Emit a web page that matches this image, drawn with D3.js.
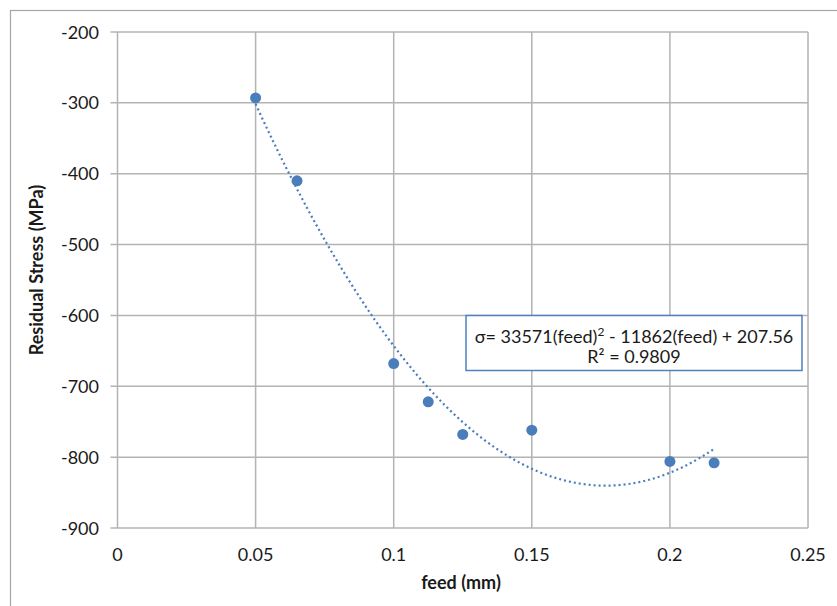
<!DOCTYPE html>
<html><head><meta charset="utf-8">
<script src="https://cdn.jsdelivr.net/npm/d3@7/dist/d3.min.js"></script>
<style>body{margin:0;background:#fff;} svg{display:block;} text{font-family:Lato,"Open Sans",sans-serif;}</style>
</head><body>
<svg id="c" width="837" height="606"></svg>
<script>
const feed = [0.05, 0.065, 0.1, 0.1125, 0.125, 0.15, 0.2, 0.216];
const stress = [-293, -410, -668, -722, -768, -762, -806, -808];
const xTicks = [0, 0.05, 0.1, 0.15, 0.2, 0.25];
const yTicks = [-200, -300, -400, -500, -600, -700, -800, -900];
const trendCoef = [33571, -11862, 207.56]; // a f^2 + b f + c
const rSquared = 0.9809;

const svg = d3.select("#c");
const L = 117.5, R = 808, T = 32, B = 528;
const x = d3.scaleLinear().domain([0, 0.25]).range([L, R]);
const y = d3.scaleLinear().domain([-900, -200]).range([B, T]);
const blue = "#4A7EBB", grid = "#B3B3B3", ink = "#1a1a1a";

// outer chart border
svg.append("rect").attr("x", 10.5).attr("y", 10.5).attr("width", 900).attr("height", 700)
  .attr("fill", "none").attr("stroke", "#A6A6A6").attr("stroke-width", 1.2);

// gridlines
svg.append("g").selectAll("line").data(yTicks).join("line")
  .attr("x1", L - 7).attr("x2", R).attr("y1", d => y(d)).attr("y2", d => y(d))
  .attr("stroke", grid).attr("stroke-width", 1.5);
svg.append("g").selectAll("line").data(xTicks).join("line")
  .attr("x1", d => x(d)).attr("x2", d => x(d)).attr("y1", T).attr("y2", B)
  .attr("stroke", grid).attr("stroke-width", 1.5);

// tick labels
svg.append("g").selectAll("text").data(yTicks).join("text")
  .attr("x", 99).attr("y", d => y(d) + 6.5).attr("text-anchor", "end")
  .attr("font-size", 18).attr("fill", ink).text(d => d);
svg.append("g").selectAll("text").data(xTicks).join("text")
  .attr("x", d => x(d)).attr("y", 561).attr("text-anchor", "middle")
  .attr("font-size", 18).attr("fill", ink).text(d => d);

// axis titles
svg.append("text").attr("x", 461).attr("y", 589).attr("text-anchor", "middle")
  .attr("font-size", 18).attr("font-weight", "bold").attr("fill", ink).text("feed (mm)");
svg.append("text").attr("transform", "translate(43,270) rotate(-90)").attr("text-anchor", "middle")
  .attr("font-size", 18).attr("font-weight", "bold").attr("fill", ink).text("Residual Stress (MPa)");

// trendline
const fx = d3.extent(feed);
const tpts = d3.range(0, 101).map(i => {
  const f = fx[0] + (fx[1] - fx[0]) * i / 100;
  return [f, trendCoef[0] * f * f + trendCoef[1] * f + trendCoef[2]];
});
svg.append("path").datum(tpts)
  .attr("d", d3.line().x(d => x(d[0])).y(d => y(d[1])))
  .attr("fill", "none").attr("stroke", blue).attr("stroke-width", 2.2)
  .attr("stroke-dasharray", "2,3");

// points
svg.append("g").selectAll("circle").data(feed.map((f, i) => [f, stress[i]])).join("circle")
  .attr("cx", d => x(d[0])).attr("cy", d => y(d[1])).attr("r", 5.5).attr("fill", blue);

// equation box
svg.append("rect").attr("x", 466).attr("y", 315.5).attr("width", 336).attr("height", 55)
  .attr("fill", "#fff").attr("stroke", "#4F81BD").attr("stroke-width", 1.5);
const eq = svg.append("text").attr("x", 634).attr("y", 343).attr("text-anchor", "middle")
  .attr("font-size", 18).attr("fill", ink);
eq.append("tspan").text("σ= " + trendCoef[0] + "(feed)");
eq.append("tspan").attr("font-size", 12).attr("dy", -7).text("2");
eq.append("tspan").attr("dy", 7).text(" - " + Math.abs(trendCoef[1]) + "(feed) + " + trendCoef[2]);
svg.append("text").attr("x", 634).attr("y", 363).attr("text-anchor", "middle")
  .attr("font-size", 18).attr("fill", ink).text("R² = " + rSquared);
</script>
</body></html>
